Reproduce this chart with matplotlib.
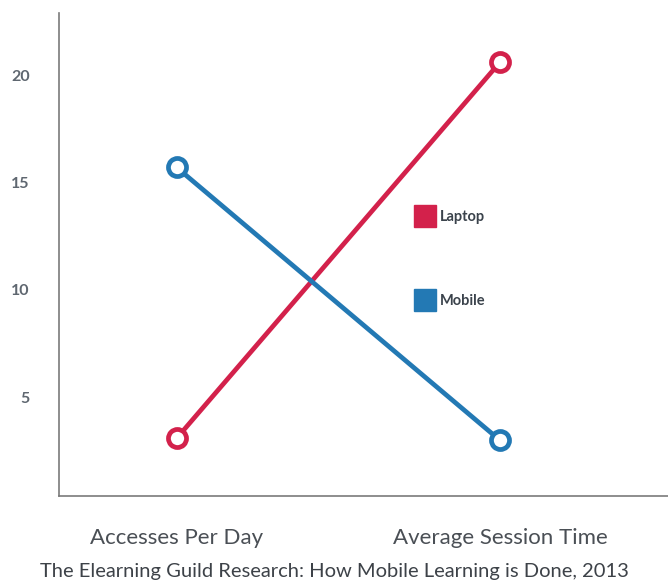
import matplotlib
matplotlib.use('Agg')
import matplotlib.pyplot as plt
from matplotlib.lines import Line2D

# data
categories = ["Accesses Per Day", "Average Session Time"]
laptop = [3.1, 20.6]
mobile = [15.7, 3.0]
y_ticks = [5, 10, 15, 20]
source = "The Elearning Guild Research: How Mobile Learning is Done, 2013"

RED = "#d3214b"
BLUE = "#2379b4"
GREY = "#5f6770"

plt.rcParams['font.family'] = ['Lato', 'DejaVu Sans']

fig = plt.figure(figsize=(6.68, 5.83), dpi=100)
ax = fig.add_axes([0.088, 0.149, 0.912, 0.829])

x = list(range(len(categories)))
for vals, col, name in [(laptop, RED, "Laptop"), (mobile, BLUE, "Mobile")]:
    ax.plot(x, vals, color=col, linewidth=3.4, marker='o', markersize=13,
            markerfacecolor='white', markeredgecolor=col, markeredgewidth=3.4,
            label=name, solid_capstyle='round')

ax.set_xlim(-0.365, 1.52)
ax.set_ylim(0.4, 22.9)
ax.set_yticks(y_ticks)
ax.set_yticklabels([str(t) for t in y_ticks], fontsize=11.5, fontweight='bold', color=GREY)
ax.set_xticks(x)
ax.set_xticklabels(categories, fontsize=16, color="#4a4f55")
ax.tick_params(axis='both', length=0)
ax.tick_params(axis='y', pad=21)
ax.tick_params(axis='x', pad=23)

for s in ['top', 'right']:
    ax.spines[s].set_visible(False)
for s in ['left', 'bottom']:
    ax.spines[s].set_color("#7a7a7a")
    ax.spines[s].set_linewidth(1.2)

handles = [Line2D([], [], linestyle='none', marker='s', markersize=16,
                  markerfacecolor=c, markeredgecolor=c) for c in (RED, BLUE)]
leg = ax.legend(handles, ["Laptop", "Mobile"], loc='upper left',
                bbox_to_anchor=(0.565, 0.62), frameon=False, labelspacing=4.85,
                handletextpad=0.45, handlelength=1.2,
                prop={'size': 10.5, 'weight': 'bold'})
for t in leg.get_texts():
    t.set_color("#3b434c")

fig.text(0.5, 0.006, source, ha='center', va='bottom', fontsize=14.5, color="#3d4248")

fig.savefig("out.png", dpi=100)
